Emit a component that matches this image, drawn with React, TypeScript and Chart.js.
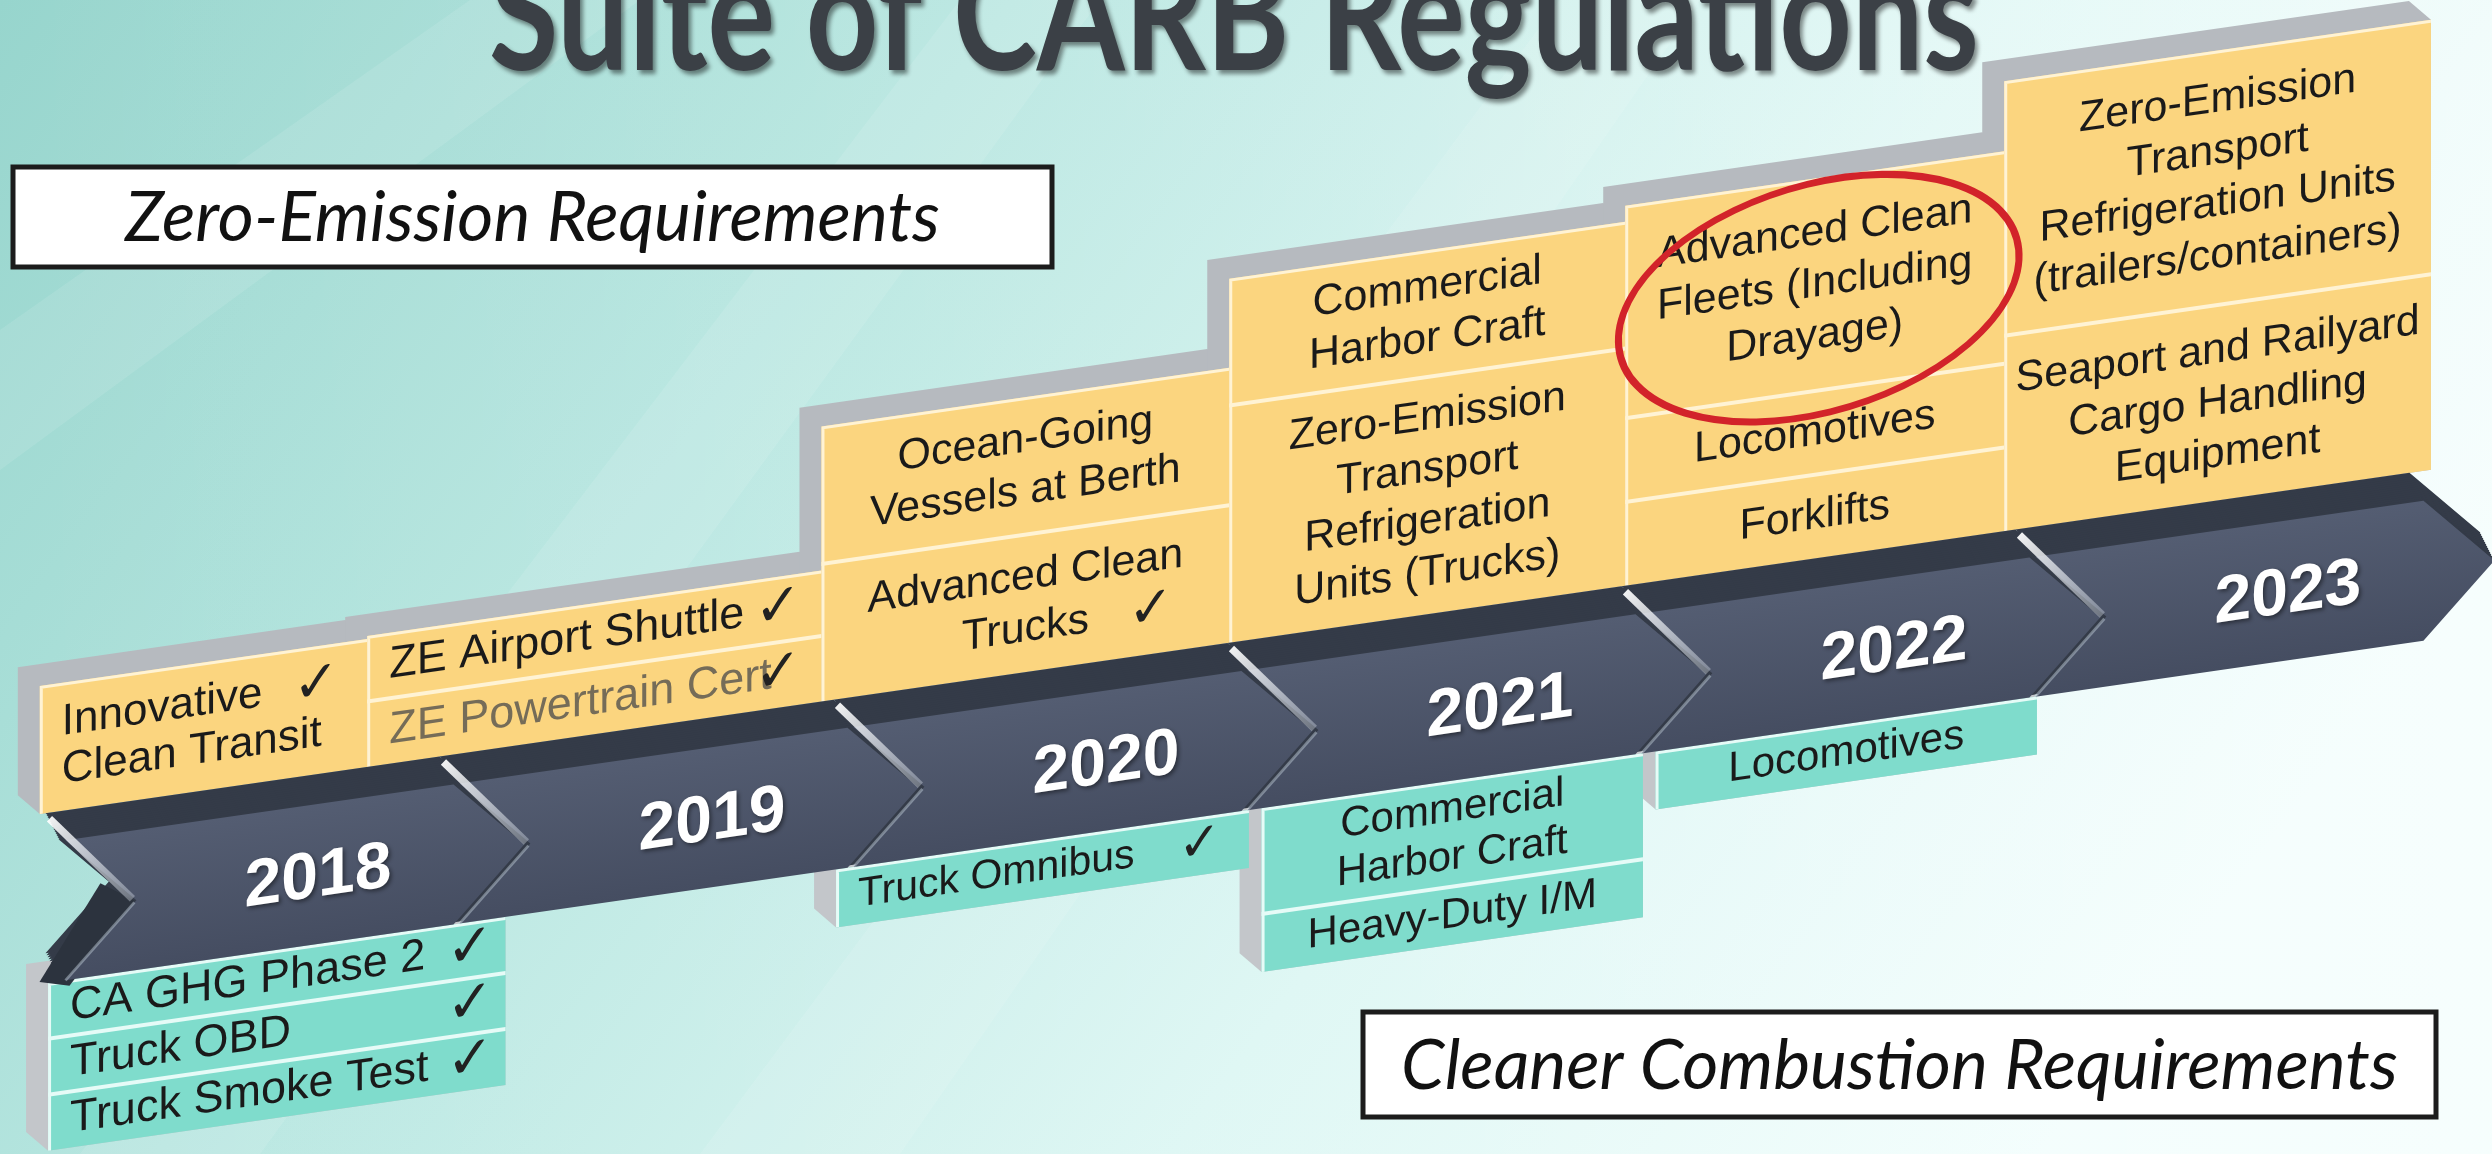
import React, { useEffect, useRef } from "react";
import { Chart, registerables } from "chart.js";

Chart.register(...registerables);

const W = 2492;
const H = 1154;

// ---------------- data ----------------
const TITLE = "Suite of CARB Regulations";
const ZE_HEADER = "Zero-Emission Requirements";
const CC_HEADER = "Cleaner Combustion Requirements";
const CHECK = "✓";

const YEARS = [2018, 2019, 2020, 2021, 2022, 2023];
const YEAR_LABELS = ["2018", "2019", "2020", "2021", "2022", "2023"];

type Item = { lines: string[]; check?: number; faded?: boolean; circled?: boolean };

const ZE_2018: Item[] = [{ lines: ["Innovative", "Clean Transit"], check: 0 }];
const ZE_2019: Item[] = [
  { lines: ["ZE Airport Shuttle"], check: 0 },
  { lines: ["ZE Powertrain Cert"], check: 0, faded: true },
];
const ZE_2020: Item[] = [
  { lines: ["Ocean-Going", "Vessels at Berth"] },
  { lines: ["Advanced Clean", "Trucks"], check: 1 },
];
const ZE_2021: Item[] = [
  { lines: ["Commercial", "Harbor Craft"] },
  { lines: ["Zero-Emission", "Transport", "Refrigeration", "Units (Trucks)"] },
];
const ZE_2022: Item[] = [
  { lines: ["Advanced Clean", "Fleets (Including", "Drayage)"], circled: true },
  { lines: ["Locomotives"] },
  { lines: ["Forklifts"] },
];
const ZE_2023: Item[] = [
  { lines: ["Zero-Emission", "Transport", "Refrigeration Units", "(trailers/containers)"] },
  { lines: ["Seaport and Railyard", "Cargo Handling", "Equipment"] },
];

const CC_2018: Item[] = [
  { lines: ["CA GHG Phase 2"], check: 0 },
  { lines: ["Truck OBD"], check: 0 },
  { lines: ["Truck Smoke Test"], check: 0 },
];
const CC_2020: Item[] = [{ lines: ["Truck Omnibus"], check: 0 }];
const CC_2021: Item[] = [{ lines: ["Commercial", "Harbor Craft"] }, { lines: ["Heavy-Duty I/M"] }];
const CC_2022: Item[] = [{ lines: ["Locomotives"] }];

const ZE_ITEMS: Record<number, Item[]> = {
  2018: ZE_2018, 2019: ZE_2019, 2020: ZE_2020, 2021: ZE_2021, 2022: ZE_2022, 2023: ZE_2023,
};
const CC_ITEMS: Record<number, Item[]> = { 2018: CC_2018, 2020: CC_2020, 2021: CC_2021, 2022: CC_2022 };

// ---------------- layout & style ----------------
const X_MIN = 2017.193;
const X_MAX = 2023.518;
const SHEAR = 0.144;
const BAND = { top: 804, mid: 874, bottom: 944, notch: 0.476, tip: 0.524, depth: 0.18, exX: -14, exY: -30 };
const ZE_BOTTOM = 774;
const CC_TOP = 944;
const BOX_EX = -22;
const BOX_EY = -22;
const FONT = '"Liberation Sans", Arial, sans-serif';

type ColStyle = { x0: number; x1: number; top?: number; align: "left" | "center"; font: number; lineH: number; pad?: number; checkInset: number };

const ZE_COLS: Record<number, ColStyle> = {
  2018: { x0: 2017.294, x1: 2018.125, top: 646, align: "left", font: 44, lineH: 48, checkInset: 28 },
  2019: { x0: 2018.125, x1: 2019.278, top: 643, align: "left", font: 45, lineH: 52, checkInset: 20 },
  2020: { x0: 2019.278, x1: 2020.313, top: 499, align: "center", font: 43, lineH: 52, checkInset: 56 },
  2021: { x0: 2020.313, x1: 2021.318, top: 410, align: "center", font: 43, lineH: 52, checkInset: 30 },
  2022: { x0: 2021.318, x1: 2022.28, top: 394, align: "center", font: 43, lineH: 52, checkInset: 30 },
  2023: { x0: 2022.28, x1: 2023.363, top: 324, align: "center", font: 43, lineH: 52, checkInset: 30 },
};
const CC_COLS: Record<number, ColStyle> = {
  2018: { x0: 2017.315, x1: 2018.476, align: "left", font: 45, lineH: 48, pad: 8, checkInset: 12 },
  2020: { x0: 2019.315, x1: 2020.363, align: "left", font: 41, lineH: 48, pad: 10, checkInset: 28 },
  2021: { x0: 2020.395, x1: 2021.363, align: "center", font: 42, lineH: 48, pad: 10, checkInset: 30 },
  2022: { x0: 2021.395, x1: 2022.363, align: "center", font: 42, lineH: 48, pad: 10, checkInset: 30 },
};

const COLORS = {
  yellow: "#fbd57f",
  teal: "#7fdccc",
  grey: "#b6babf",
  greyTeal: "#c3c6ca",
  dividerY: "#fff3d4",
  dividerT: "#e6fbf7",
  text: "#1a1a1a",
  faded: "#756c58",
  bandTop: "#343b48",
  slab: "#2c333e",
  red: "#d2232a",
  title: "#3b4046",
};

// ---------------- drawing helpers ----------------
function hexPath(ctx: CanvasRenderingContext2D, L: number, R: number, T: number, B: number, ex: number, ey: number) {
  ctx.beginPath();
  ctx.moveTo(L + ex, T + ey);
  ctx.lineTo(R + ex, T + ey);
  ctx.lineTo(R, T);
  ctx.lineTo(R, B);
  ctx.lineTo(L, B);
  ctx.lineTo(L + ex, B + ey);
  ctx.closePath();
}

function drawItems(
  ctx: CanvasRenderingContext2D,
  items: Item[],
  heights: number[],
  L: number,
  R: number,
  T: number,
  st: ColStyle,
  fill: string,
  divider: string
) {
  const B = T + heights.reduce((a, b) => a + b, 0);
  ctx.fillStyle = fill;
  ctx.fillRect(L, T, R - L, B - T);
  let y = T;
  items.forEach((it, i) => {
    const h = heights[i];
    if (i > 0) {
      ctx.strokeStyle = divider;
      ctx.lineWidth = 4;
      ctx.beginPath();
      ctx.moveTo(L, y);
      ctx.lineTo(R, y);
      ctx.stroke();
    }
    const cy = y + h / 2;
    const n = it.lines.length;
    ctx.font = `${st.font}px ${FONT}`;
    ctx.textBaseline = "middle";
    ctx.fillStyle = it.faded ? COLORS.faded : COLORS.text;
    it.lines.forEach((ln, j) => {
      const ly = cy + (j - (n - 1) / 2) * st.lineH;
      if (st.align === "left") {
        ctx.textAlign = "left";
        ctx.fillText(ln, L + 22, ly);
      } else {
        ctx.textAlign = "center";
        ctx.fillText(ln, (L + R) / 2, ly);
      }
    });
    if (it.check !== undefined) {
      const ly = cy + (it.check - (n - 1) / 2) * st.lineH;
      ctx.fillStyle = "#222222";
      ctx.textAlign = "right";
      ctx.font = `${Math.round(st.font * 1.25)}px "DejaVu Sans", ${FONT}`;
      ctx.fillText(CHECK, R - st.checkInset, ly);
    }
    y += h;
  });
  ctx.strokeStyle = divider;
  ctx.lineWidth = 3;
  ctx.beginPath();
  ctx.moveTo(L + 1.5, B);
  ctx.lineTo(L + 1.5, T + 1.5);
  ctx.lineTo(R, T + 1.5);
  ctx.stroke();
  return B;
}

function fitSize(ctx: CanvasRenderingContext2D, text: string, style: string, family: string, target: number) {
  ctx.font = `${style} 100px ${family}`;
  const w = ctx.measureText(text).width;
  return (100 * target) / w;
}

function drawBackground(ctx: CanvasRenderingContext2D) {
  ctx.save();
  const g = ctx.createLinearGradient(0, 0, W * 0.75, H * 1.2);
  g.addColorStop(0, "#97d5cd");
  g.addColorStop(0.35, "#b7e6e0");
  g.addColorStop(0.7, "#dbf6f3");
  g.addColorStop(1, "#effdfc");
  ctx.fillStyle = g;
  ctx.fillRect(0, 0, W, H);
  const g2 = ctx.createLinearGradient(0, 0, W, 0);
  g2.addColorStop(0, "rgba(255,255,255,0)");
  g2.addColorStop(0.55, "rgba(255,255,255,0.12)");
  g2.addColorStop(1, "rgba(255,255,255,0.45)");
  ctx.fillStyle = g2;
  ctx.fillRect(0, 0, W, H);
  const streaks = [
    [[0, 330], [0, 470], [640, 0], [470, 0]],
    [[80, 1154], [260, 1154], [1100, 0], [960, 0]],
    [[700, 1154], [900, 1154], [1700, 0], [1560, 0]],
  ];
  ctx.fillStyle = "rgba(255,255,255,0.10)";
  streaks.forEach((s) => {
    ctx.beginPath();
    s.forEach(([x, y], i) => (i ? ctx.lineTo(x, y) : ctx.moveTo(x, y)));
    ctx.closePath();
    ctx.fill();
  });
  ctx.restore();
}

function drawHeaderBox(ctx: CanvasRenderingContext2D, text: string, x: number, y: number, w: number, h: number, textW: number) {
  ctx.save();
  ctx.fillStyle = "#ffffff";
  ctx.fillRect(x, y, w, h);
  ctx.strokeStyle = "#1c1c1c";
  ctx.lineWidth = 5;
  ctx.strokeRect(x, y, w, h);
  const fs = fitSize(ctx, text, "italic 400", "Lato, sans-serif", textW);
  ctx.font = `italic 400 ${fs}px Lato, sans-serif`;
  ctx.fillStyle = "#111111";
  ctx.textAlign = "center";
  ctx.textBaseline = "middle";
  ctx.fillText(text, x + w / 2, y + h / 2 + 2);
  ctx.restore();
}

function drawScene(chart: any) {
  const ctx: CanvasRenderingContext2D = chart.ctx;
  const xs = chart.scales.x;
  const ys = chart.scales.y;
  const px = (v: number) => xs.getPixelForValue(v);
  const py = (v: number) => ys.getPixelForValue(v);

  // title (cut by the top edge)
  ctx.save();
  ctx.font = `bold 160px Lato, sans-serif`;
  const tw = ctx.measureText(TITLE).width;
  const sx = 1490 / tw;
  ctx.translate(1234, 70);
  ctx.scale(sx, 1);
  ctx.textAlign = "center";
  ctx.textBaseline = "alphabetic";
  ctx.shadowColor = "rgba(0,0,0,0.45)";
  ctx.shadowOffsetX = 3;
  ctx.shadowOffsetY = 4;
  ctx.shadowBlur = 4;
  ctx.fillStyle = COLORS.title;
  ctx.fillText(TITLE, 0, 0);
  ctx.restore();

  ctx.save();
  const xref = px(YEARS[0]);
  ctx.transform(1, -SHEAR, 0, 1, 0, SHEAR * xref);

  // ---- zero-emission columns ----
  const zeGeo: Record<number, number[]> = {};
  YEARS.forEach((yr) => {
    const c = ZE_COLS[yr];
    const items = ZE_ITEMS[yr];
    const T = py(c.top!);
    const B = py(ZE_BOTTOM);
    const weights = items.map((it) => it.lines.length + 0.3);
    const sum = weights.reduce((a, b) => a + b, 0);
    zeGeo[yr] = weights.map((w) => ((B - T) * w) / sum);
    hexPath(ctx, px(c.x0), px(c.x1), T, B, BOX_EX, BOX_EY);
    ctx.fillStyle = COLORS.grey;
    ctx.fill();
  });
  YEARS.forEach((yr) => {
    const c = ZE_COLS[yr];
    drawItems(ctx, ZE_ITEMS[yr], zeGeo[yr], px(c.x0), px(c.x1), py(c.top!), c, COLORS.yellow, COLORS.dividerY);
  });

  // ---- cleaner combustion columns ----
  const ccYears = Object.keys(CC_ITEMS).map(Number);
  const ccGeo: Record<number, number[]> = {};
  ccYears.forEach((yr) => {
    const c = CC_COLS[yr];
    const hs = CC_ITEMS[yr].map((it) => it.lines.length * c.lineH + (c.pad || 0));
    ccGeo[yr] = hs;
    const T = py(CC_TOP);
    const B = T + hs.reduce((a, b) => a + b, 0);
    hexPath(ctx, px(c.x0), px(c.x1), T, B, BOX_EX, BOX_EY);
    ctx.fillStyle = COLORS.greyTeal;
    ctx.fill();
  });
  ccYears.forEach((yr) => {
    const c = CC_COLS[yr];
    drawItems(ctx, CC_ITEMS[yr], ccGeo[yr], px(c.x0), px(c.x1), py(CC_TOP), c, COLORS.teal, COLORS.dividerT);
  });

  // ---- timeline band ----
  const BT = py(BAND.top);
  const BM = py(BAND.mid);
  const BB = py(BAND.bottom);
  const chev = (v: number, dx: number, dy: number, gap: number) => {
    const xlo = px(v - BAND.notch - BAND.depth) + gap;
    const xl = px(v - BAND.notch) + gap;
    const xro = px(v + BAND.tip - BAND.depth);
    const xr = px(v + BAND.tip);
    ctx.beginPath();
    ctx.moveTo(xlo + dx, BT + dy);
    ctx.lineTo(xro + dx, BT + dy);
    ctx.lineTo(xr + dx, BM + dy);
    ctx.lineTo(xro + dx, BB + dy);
    ctx.lineTo(xlo + dx, BB + dy);
    ctx.lineTo(xl + dx, BM + dy);
    ctx.closePath();
  };
  ctx.fillStyle = COLORS.bandTop;
  YEARS.forEach((v) => {
    for (let s = 14; s >= 1; s--) {
      chev(v, (BAND.exX * s) / 14, (BAND.exY * s) / 14, 0);
      ctx.fill();
    }
  });
  {
    const v = YEARS[0];
    const xlo = px(v - BAND.notch - BAND.depth);
    const xl = px(v - BAND.notch);
    ctx.fillStyle = COLORS.slab;
    ctx.beginPath();
    ctx.moveTo(xl + 4, BM);
    ctx.lineTo(xlo + 10, BB + 6);
    ctx.lineTo(xlo - 20, BB - 2);
    ctx.lineTo(xl - 30, BM - 22);
    ctx.closePath();
    ctx.fill();
  }
  const fg = ctx.createLinearGradient(0, BT, 0, BB);
  fg.addColorStop(0, "#545d72");
  fg.addColorStop(1, "#454d61");
  YEARS.forEach((v) => {
    chev(v, 0, 0, 6);
    ctx.fillStyle = fg;
    ctx.fill();
  });
  YEARS.forEach((v) => {
    const xlo = px(v - BAND.notch - BAND.depth);
    const xl = px(v - BAND.notch);
    const hg = ctx.createLinearGradient(xlo - 12, BT - 26, xl, BM);
    hg.addColorStop(0, "rgba(255,255,255,0.95)");
    hg.addColorStop(1, "rgba(225,232,240,0.35)");
    ctx.strokeStyle = hg;
    ctx.lineWidth = 7;
    ctx.beginPath();
    ctx.moveTo(xlo - 10, BT - 24);
    ctx.lineTo(xl + 2, BM - 2);
    ctx.stroke();
    ctx.strokeStyle = "rgba(200,212,224,0.45)";
    ctx.lineWidth = 3;
    ctx.beginPath();
    ctx.moveTo(xl + 4, BM + 2);
    ctx.lineTo(xlo + 6, BB);
    ctx.stroke();
  });
  const meta = chart.getDatasetMeta(0);
  ctx.save();
  ctx.font = `bold 66px ${FONT}`;
  ctx.textAlign = "center";
  ctx.textBaseline = "middle";
  ctx.fillStyle = "#ffffff";
  ctx.shadowColor = "rgba(0,0,0,0.45)";
  ctx.shadowBlur = 4;
  ctx.shadowOffsetX = 2;
  ctx.shadowOffsetY = 2;
  meta.data.forEach((el: any, i: number) => {
    ctx.fillText(YEAR_LABELS[i], el.x, el.y + 4);
  });
  ctx.restore();

  // ---- circled item ----
  YEARS.forEach((yr) => {
    const c = ZE_COLS[yr];
    let y = py(c.top!);
    ZE_ITEMS[yr].forEach((it, i) => {
      const h = zeGeo[yr][i];
      if (it.circled) {
        ctx.strokeStyle = COLORS.red;
        ctx.lineWidth = 7;
        ctx.beginPath();
        ctx.ellipse((px(c.x0) + px(c.x1)) / 2 + 4, y + h / 2 + 14, 201, 116, -0.1, 0, Math.PI * 2);
        ctx.stroke();
      }
      y += h;
    });
  });
  ctx.restore();

  drawHeaderBox(ctx, ZE_HEADER, 13, 167, 1039, 100, 815);
  drawHeaderBox(ctx, CC_HEADER, 1363, 1012, 1073, 105, 997);
}

const carbPlugin = {
  id: "carbTimeline",
  beforeDraw(chart: any) {
    drawBackground(chart.ctx);
  },
  afterDatasetsDraw(chart: any) {
    drawScene(chart);
  },
};

export default function App() {
  const ref = useRef<HTMLCanvasElement>(null);
  useEffect(() => {
    const canvas = ref.current!;
    const chart = new Chart(canvas, {
      type: "scatter",
      data: {
        datasets: [
          {
            label: "years",
            data: YEARS.map((y) => ({ x: y, y: BAND.mid })),
            pointRadius: 0,
            pointHoverRadius: 0,
            showLine: false,
          },
        ],
      },
      options: {
        animation: false,
        responsive: false,
        devicePixelRatio: 1,
        events: [],
        layout: { padding: 0 },
        plugins: { legend: { display: false }, tooltip: { enabled: false }, title: { display: false } },
        scales: {
          x: { type: "linear", min: X_MIN, max: X_MAX, display: false },
          y: { type: "linear", min: 0, max: H, reverse: true, display: false },
        },
      },
      plugins: [carbPlugin],
    } as any);
    return () => chart.destroy();
  }, []);
  return (
    <div style={{ position: "absolute", left: 0, top: 0, width: W, height: H, overflow: "hidden" }}>
      <canvas ref={ref} width={W} height={H} style={{ display: "block", width: W, height: H }} />
    </div>
  );
}
